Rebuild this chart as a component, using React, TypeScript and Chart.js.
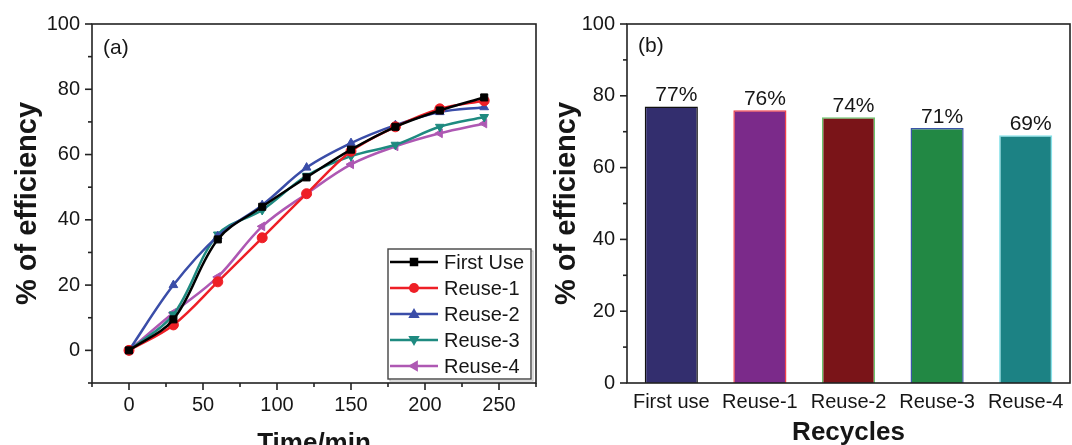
import React, { useEffect, useRef } from 'react';
import { Chart, registerables } from 'chart.js';

Chart.register(...registerables);

const FONT = "'Liberation Sans', Arial, Helvetica, sans-serif";
const INK = '#161616';

// ---------- Panel (a) data ----------
const timePoints = [0, 30, 60, 90, 120, 150, 180, 210, 240];
const firstUse = [0, 9.5, 34, 44, 53, 61.5, 68.5, 73.5, 77.5];
const reuse1 = [0, 7.8, 21, 34.5, 48, 61, 68.5, 74, 76.5];
const reuse2 = [0, 20, 35, 44.5, 56, 63.5, 69, 73, 74.5];
const reuse3 = [0, 11, 35.5, 43, 53.5, 59.5, 63, 68.5, 71.5];
const reuse4 = [0, 11.5, 22.5, 38, 48, 57, 62.5, 66.5, 69.5];
const seriesNames = ['First Use', 'Reuse-1', 'Reuse-2', 'Reuse-3', 'Reuse-4'];
const seriesValues = [firstUse, reuse1, reuse2, reuse3, reuse4];
const seriesColors = ['#000000', '#EE1F26', '#3A4DA8', '#1E8A80', '#AE58B3'];
const seriesMarkers = ['rect', 'circle', 'triangle', 'triangle', 'triangle'];
const seriesMarkerRotations = [0, 0, 0, 180, 270];

// ---------- Panel (b) data ----------
const recycleLabels = ['First use', 'Reuse-1', 'Reuse-2', 'Reuse-3', 'Reuse-4'];
const recycleEfficiency = [77, 76, 74, 71, 69];
const barFills = ['#332E6E', '#7B2A8A', '#7A1418', '#228844', '#1C8284'];
const barBorders = ['#111111', '#F0404A', '#6CC46C', '#3A55A8', '#86E2EA'];

// ---------- plugins ----------
const frameTicksPlugin = {
  id: 'frameTicks',
  afterDraw(chart: any, _args: any, opts: any) {
    const { ctx, chartArea: a } = chart;
    ctx.save();
    ctx.strokeStyle = opts.color;
    ctx.lineWidth = opts.width;
    ctx.strokeRect(a.left, a.top, a.right - a.left, a.bottom - a.top);
    for (const axis of opts.axes) {
      const scale = chart.scales[axis.id];
      const n = Math.round((scale.max - scale.min) / axis.minor);
      for (let k = 0; k <= n; k++) {
        const v = scale.min + k * axis.minor;
        const isMajor = Math.abs(Math.round(v / axis.major) * axis.major - v) < 1e-6;
        const len = isMajor ? opts.majorLen : opts.minorLen;
        const p = scale.getPixelForValue(v);
        ctx.beginPath();
        if (axis.id === 'x') {
          ctx.moveTo(p, a.bottom);
          ctx.lineTo(p, a.bottom + len);
        } else {
          ctx.moveTo(a.left, p);
          ctx.lineTo(a.left - len, p);
        }
        ctx.stroke();
      }
    }
    ctx.restore();
  },
};

const panelLabelPlugin = {
  id: 'panelLabel',
  afterDraw(chart: any, _args: any, opts: any) {
    const { ctx, chartArea: a } = chart;
    ctx.save();
    ctx.font = `${opts.size}px ${FONT}`;
    ctx.fillStyle = INK;
    ctx.textAlign = 'left';
    ctx.textBaseline = 'middle';
    ctx.fillText(opts.text, a.left + opts.dx, a.top + opts.dy);
    ctx.restore();
  },
};

function drawMarker(ctx: CanvasRenderingContext2D, style: string, rotationDeg: number, x: number, y: number, r: number) {
  ctx.save();
  ctx.translate(x, y);
  ctx.rotate((rotationDeg * Math.PI) / 180);
  ctx.beginPath();
  if (style === 'circle') {
    ctx.arc(0, 0, r, 0, Math.PI * 2);
  } else if (style === 'rect') {
    const s = r * 0.85;
    ctx.rect(-s, -s, 2 * s, 2 * s);
  } else {
    const h = r * 1.2;
    ctx.moveTo(0, -h);
    ctx.lineTo(h * 0.95, h * 0.65);
    ctx.lineTo(-h * 0.95, h * 0.65);
    ctx.closePath();
  }
  ctx.fill();
  ctx.restore();
}

const insetLegendPlugin = {
  id: 'insetLegend',
  afterDraw(chart: any, _args: any, opts: any) {
    const { ctx, chartArea: a } = chart;
    const ds = chart.data.datasets;
    const boxW = opts.width;
    const boxH = opts.rowHeight * ds.length;
    const right = a.right - opts.marginRight;
    const bottom = a.bottom - opts.marginBottom;
    const left = right - boxW;
    const top = bottom - boxH;
    ctx.save();
    ctx.strokeStyle = '#b8b8b8';
    ctx.lineWidth = 1;
    ctx.strokeRect(left + 2, top + 2, boxW, boxH);
    ctx.fillStyle = '#ffffff';
    ctx.fillRect(left, top, boxW, boxH);
    ctx.strokeStyle = '#444';
    ctx.lineWidth = 1.4;
    ctx.strokeRect(left, top, boxW, boxH);
    ctx.font = `${opts.fontSize}px ${FONT}`;
    ctx.textAlign = 'left';
    ctx.textBaseline = 'middle';
    ds.forEach((d: any, i: number) => {
      const y = top + opts.rowHeight * (i + 0.5);
      ctx.strokeStyle = d.borderColor;
      ctx.lineWidth = d.borderWidth;
      ctx.beginPath();
      ctx.moveTo(left + 2, y);
      ctx.lineTo(left + 50, y);
      ctx.stroke();
      ctx.fillStyle = d.borderColor;
      drawMarker(ctx, d.pointStyle, d.pointRotation, left + 26, y, d.pointRadius);
      ctx.fillStyle = INK;
      ctx.fillText(d.label, left + 56, y + 1);
    });
    ctx.restore();
  },
};

const barValuePlugin = {
  id: 'barValues',
  afterDatasetsDraw(chart: any, _args: any, opts: any) {
    const { ctx } = chart;
    const meta = chart.getDatasetMeta(0);
    const values = chart.data.datasets[0].data;
    ctx.save();
    ctx.font = `${opts.size}px ${FONT}`;
    ctx.fillStyle = INK;
    ctx.textAlign = 'center';
    ctx.textBaseline = 'middle';
    meta.data.forEach((bar: any, i: number) => {
      ctx.fillText(`${values[i]}%`, bar.x + opts.dx, bar.y - opts.dy);
    });
    ctx.restore();
  },
};

const tickFont = { family: FONT, size: 20 };
const titleFont = { family: FONT, size: 26, weight: 'bold' as const };
const yTitleFont = { family: FONT, size: 29, weight: 'bold' as const };

function makeLineConfig(): any {
  return {
    type: 'line',
    data: {
      datasets: seriesNames.map((name, i) => ({
        label: name,
        data: timePoints.map((t, j) => ({ x: t, y: seriesValues[i][j] })),
        borderColor: seriesColors[i],
        backgroundColor: seriesColors[i],
        pointBackgroundColor: seriesColors[i],
        pointBorderColor: seriesColors[i],
        pointStyle: seriesMarkers[i],
        pointRotation: seriesMarkerRotations[i],
        pointRadius: 5,
        pointBorderWidth: 1,
        borderWidth: 2.5,
        tension: 0.35,
        fill: false,
      })),
    },
    options: {
      responsive: false,
      animation: false,
      devicePixelRatio: 1,
      layout: { padding: { left: 0, top: 23, right: 12, bottom: 0 } },
      scales: {
        x: {
          type: 'linear',
          min: -25,
          max: 275,
          afterFit: (s: any) => { s.height = 62; },
          grid: { display: false, drawTicks: false },
          border: { display: false },
          ticks: {
            stepSize: 25,
            autoSkip: false,
            maxRotation: 0,
            padding: 10,
            color: INK,
            font: tickFont,
            callback: (v: any) => (v >= 0 && v % 50 === 0 ? String(v) : ''),
          },
          title: { display: true, text: 'Time/min', color: INK, font: titleFont, padding: { top: 0, bottom: -14.6 } },
        },
        y: {
          min: -10,
          max: 100,
          afterFit: (s: any) => { s.width = 92; },
          grid: { display: false, drawTicks: false },
          border: { display: false },
          ticks: {
            stepSize: 10,
            autoSkip: false,
            padding: 12,
            color: INK,
            font: tickFont,
            callback: (v: any) => (v >= 0 && v % 20 === 0 ? String(v) : ''),
          },
          title: { display: true, text: '% of efficiency', color: INK, font: yTitleFont, padding: { top: 10.6, bottom: 0 } },
        },
      },
      plugins: {
        legend: { display: false },
        tooltip: { enabled: false },
        frameTicks: {
          color: '#222', width: 1.6, majorLen: 7, minorLen: 4,
          axes: [{ id: 'x', major: 50, minor: 25 }, { id: 'y', major: 20, minor: 10 }],
        },
        panelLabel: { text: '(a)', size: 21, dx: 11, dy: 24 },
        insetLegend: { width: 143, rowHeight: 26, marginRight: 5, marginBottom: 4, fontSize: 20 },
      },
    },
    plugins: [frameTicksPlugin, panelLabelPlugin, insetLegendPlugin],
  };
}

function makeBarConfig(): any {
  return {
    type: 'bar',
    data: {
      labels: recycleLabels,
      datasets: [{
        label: 'Efficiency',
        data: recycleEfficiency,
        backgroundColor: barFills,
        borderColor: barBorders,
        borderWidth: 1.5,
        barPercentage: 0.6,
        categoryPercentage: 1,
      }],
    },
    options: {
      responsive: false,
      animation: false,
      devicePixelRatio: 1,
      layout: { padding: { left: 0, top: 23, right: 2, bottom: 0 } },
      scales: {
        x: {
          afterFit: (s: any) => { s.height = 62; },
          grid: { display: false, drawTicks: false },
          border: { display: false },
          ticks: { autoSkip: false, maxRotation: 0, padding: 7, color: INK, font: tickFont },
          title: { display: true, text: 'Recycles', color: INK, font: titleFont, padding: { top: 0, bottom: -3.6 } },
        },
        y: {
          min: 0,
          max: 100,
          afterFit: (s: any) => { s.width = 79; },
          grid: { display: false, drawTicks: false },
          border: { display: false },
          ticks: {
            stepSize: 10,
            autoSkip: false,
            padding: 12,
            color: INK,
            font: tickFont,
            callback: (v: any) => (v % 20 === 0 ? String(v) : ''),
          },
          title: { display: true, text: '% of efficiency', color: INK, font: yTitleFont, padding: { top: 1.6, bottom: 0 } },
        },
      },
      plugins: {
        legend: { display: false },
        tooltip: { enabled: false },
        frameTicks: {
          color: '#222', width: 1.6, majorLen: 7, minorLen: 4,
          axes: [{ id: 'y', major: 20, minor: 10 }],
        },
        panelLabel: { text: '(b)', size: 21, dx: 11, dy: 22 },
        barValues: { size: 21, dx: 5, dy: 11 },
      },
    },
    plugins: [frameTicksPlugin, panelLabelPlugin, barValuePlugin],
  };
}

function ChartPanel({ left, width, height, makeConfig }: { left: number; width: number; height: number; makeConfig: () => any }) {
  const ref = useRef<HTMLCanvasElement>(null);
  useEffect(() => {
    const chart = new Chart(ref.current as HTMLCanvasElement, makeConfig());
    return () => chart.destroy();
  }, [makeConfig]);
  return (
    <div style={{ position: 'absolute', left, top: 0, width, height }}>
      <canvas ref={ref} width={width} height={height} style={{ width, height, display: 'block' }} />
    </div>
  );
}

export default function App() {
  return (
    <div style={{ position: 'absolute', left: 0, top: 0, width: 1072, height: 445, background: '#fff', overflow: 'hidden' }}>
      <ChartPanel left={0} width={548} height={445} makeConfig={makeLineConfig} />
      <ChartPanel left={548} width={524} height={445} makeConfig={makeBarConfig} />
    </div>
  );
}
